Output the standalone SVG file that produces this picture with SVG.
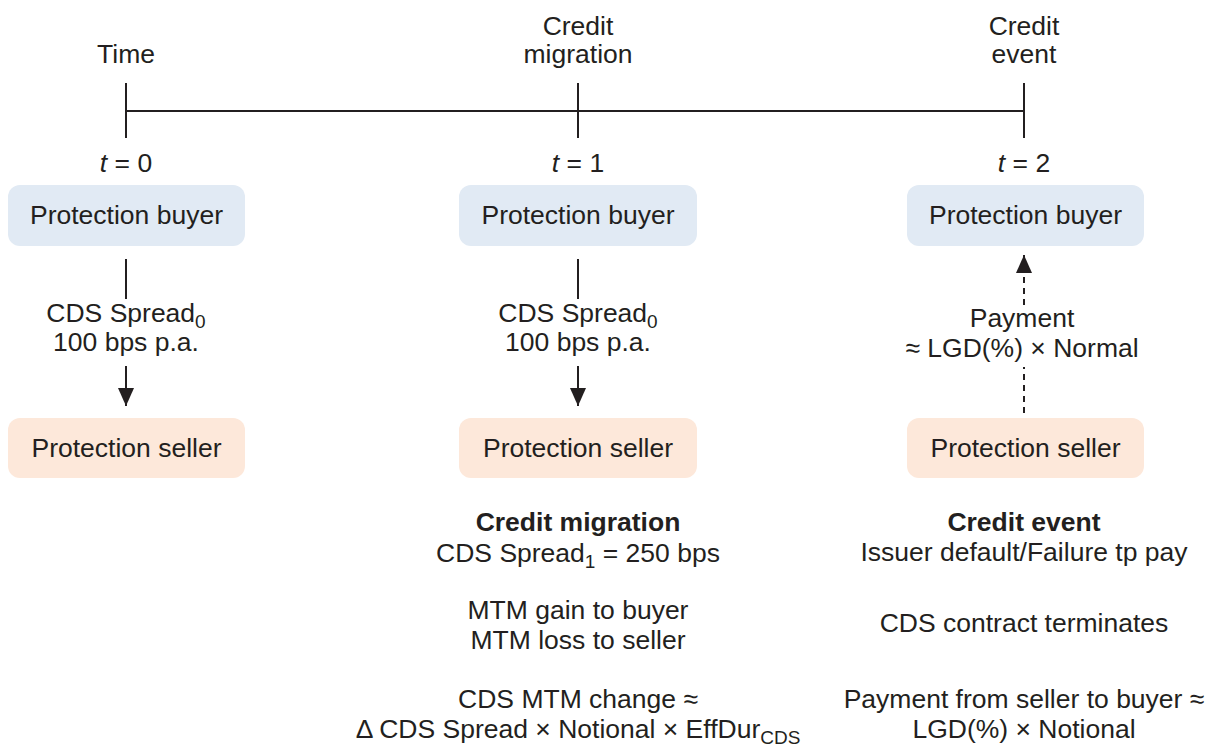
<svg xmlns="http://www.w3.org/2000/svg" width="1216" height="748" viewBox="0 0 1216 748">
<style>
text{font-family:"Liberation Sans",Arial,sans-serif;font-size:26.5px;fill:#231f20;text-anchor:middle}
.b{font-weight:bold}
.sub{font-size:19px}
.buyer{fill:#e1eaf4}
.seller{fill:#fde8da}
.ln{stroke:#231f20;stroke-width:2;fill:none}
.dash{stroke-dasharray:6 5}
</style>
<defs>
<marker id="ah" markerUnits="userSpaceOnUse" markerWidth="18" markerHeight="16" viewBox="0 0 18 16" refX="18" refY="8" orient="auto">
<path d="M0,0 L18,8 L0,16 Z" fill="#231f20"/>
</marker>
</defs>
<g id="timeline">
<path class="ln" d="M126,111 H1024 M126,83 V138 M578,83 V138 M1024,83 V138"/>
<text x="126" y="63">Time</text>
<text x="578" y="35">Credit</text>
<text x="578" y="63">migration</text>
<text x="1024" y="35">Credit</text>
<text x="1024" y="63">event</text>
<text x="126" y="172"><tspan font-style="italic">t</tspan> = 0</text>
<text x="578" y="172"><tspan font-style="italic">t</tspan> = 1</text>
<text x="1024" y="172"><tspan font-style="italic">t</tspan> = 2</text>
</g>
<g id="buyer0"><rect class="buyer" x="8" y="185" width="237" height="61" rx="12"/><text x="126.5" y="224">Protection buyer</text></g>
<g id="buyer1"><rect class="buyer" x="459" y="185" width="238" height="61" rx="12"/><text x="578" y="224">Protection buyer</text></g>
<g id="buyer2"><rect class="buyer" x="907" y="185" width="237" height="61" rx="12"/><text x="1025.5" y="224">Protection buyer</text></g>
<g id="seller0"><rect class="seller" x="8" y="418" width="237" height="60" rx="12"/><text x="126.5" y="457">Protection seller</text></g>
<g id="seller1"><rect class="seller" x="459" y="418" width="238" height="60" rx="12"/><text x="578" y="457">Protection seller</text></g>
<g id="seller2"><rect class="seller" x="907" y="418" width="237" height="60" rx="12"/><text x="1025.5" y="457">Protection seller</text></g>
<g id="connectors">
<path class="ln" d="M126,259 V299"/>
<path class="ln" d="M126,366 V406" marker-end="url(#ah)"/>
<path class="ln" d="M578,259 V299"/>
<path class="ln" d="M578,366 V406" marker-end="url(#ah)"/>
<path class="ln dash" d="M1024,413 V367"/>
<path class="ln dash" d="M1024,305 V255" marker-end="url(#ah)"/>
<text x="126" y="322">CDS Spread<tspan class="sub" dy="6">0</tspan></text>
<text x="126" y="351">100 bps p.a.</text>
<text x="578" y="322">CDS Spread<tspan class="sub" dy="6">0</tspan></text>
<text x="578" y="351">100 bps p.a.</text>
<text x="1022" y="327">Payment</text>
<text x="1022" y="357">≈ LGD(%) × Normal</text>
</g>
<g id="migration-notes">
<text class="b" x="578" y="531">Credit migration</text>
<text x="578" y="562">CDS Spread<tspan class="sub" dy="6">1</tspan><tspan dy="-6"> = 250 bps</tspan></text>
<text x="578" y="619">MTM gain to buyer</text>
<text x="578" y="649">MTM loss to seller</text>
<text x="578" y="708">CDS MTM change ≈</text>
<text x="578" y="738">Δ CDS Spread × Notional × EffDur<tspan class="sub" dy="6">CDS</tspan></text>
</g>
<g id="event-notes">
<text class="b" x="1024" y="531">Credit event</text>
<text x="1024" y="561">Issuer default/Failure tp pay</text>
<text x="1024" y="632">CDS contract terminates</text>
<text x="1024" y="708">Payment from seller to buyer ≈</text>
<text x="1024" y="738">LGD(%) × Notional</text>
</g>
</svg>
